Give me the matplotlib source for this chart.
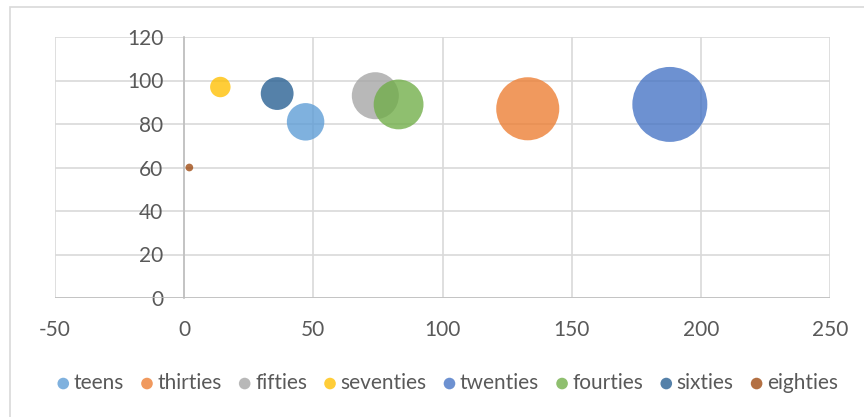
import matplotlib.pyplot as plt
from matplotlib.patches import Rectangle

plt.rcParams['font.family'] = ['Lato', 'DejaVu Sans']
plt.rcParams['axes.unicode_minus'] = False

# data (bubble size follows the x value)
names = ["teens", "thirties", "fifties", "seventies", "twenties", "fourties", "sixties", "eighties"]
xvals = [47, 133, 74, 14, 188, 83, 36, 2]
yvals = [81, 87, 93, 97, 89, 89, 94, 60]
sizes = [47, 133, 74, 14, 188, 83, 36, 2]
colors = ["#5B9BD5", "#ED7D31", "#A5A5A5", "#FFC000", "#4472C4", "#70AD47", "#255E91", "#9E480E"]

txt = "#595959"
grid = "#D9D9D9"

fig = plt.figure(figsize=(8.64, 4.17), dpi=100)
ax = fig.add_axes([55/864, 1-298/417, 775/864, 261/417])

# chart area border
fig.patches.append(Rectangle((10/864, -0.1), 1.0, 1-7/417+0.1, transform=fig.transFigure,
                             fill=False, edgecolor=grid, lw=1.2))

for n, x, y, s, c in zip(names, xvals, yvals, sizes, colors):
    ax.scatter([x], [y], s=s*15.5, color=c, alpha=0.78, edgecolors='none', label=n, zorder=3)

ax.set_xlim(-50, 250)
ax.set_ylim(0, 120)
ax.set_xticks(range(-50, 251, 50))
ax.set_yticks(range(0, 121, 20))
ax.grid(True, color=grid, lw=1.2, zorder=0)
ax.set_axisbelow(True)

for sp in ['top', 'right', 'bottom']:
    ax.spines[sp].set_visible(False)
ax.spines['left'].set_position(('data', 0))
ax.spines['left'].set_color("#BFBFBF")
ax.spines['left'].set_linewidth(1.2)
ax.axhline(0, color="#BFBFBF", lw=1.2, zorder=1)

ax.tick_params(axis='both', length=0, labelsize=15, colors=txt)
ax.tick_params(axis='y', pad=15)
ax.tick_params(axis='x', pad=16)

fig.legend(loc='center', bbox_to_anchor=(447/864, 1-383/417), ncol=8, frameon=False,
           fontsize=15, labelcolor=txt, handletextpad=0.15, columnspacing=0.75,
           handlelength=0.7, scatterpoints=1)
leg = fig.legends[0]
for h in leg.legend_handles:
    h.set_sizes([70])

fig.savefig("out.png", dpi=100)
